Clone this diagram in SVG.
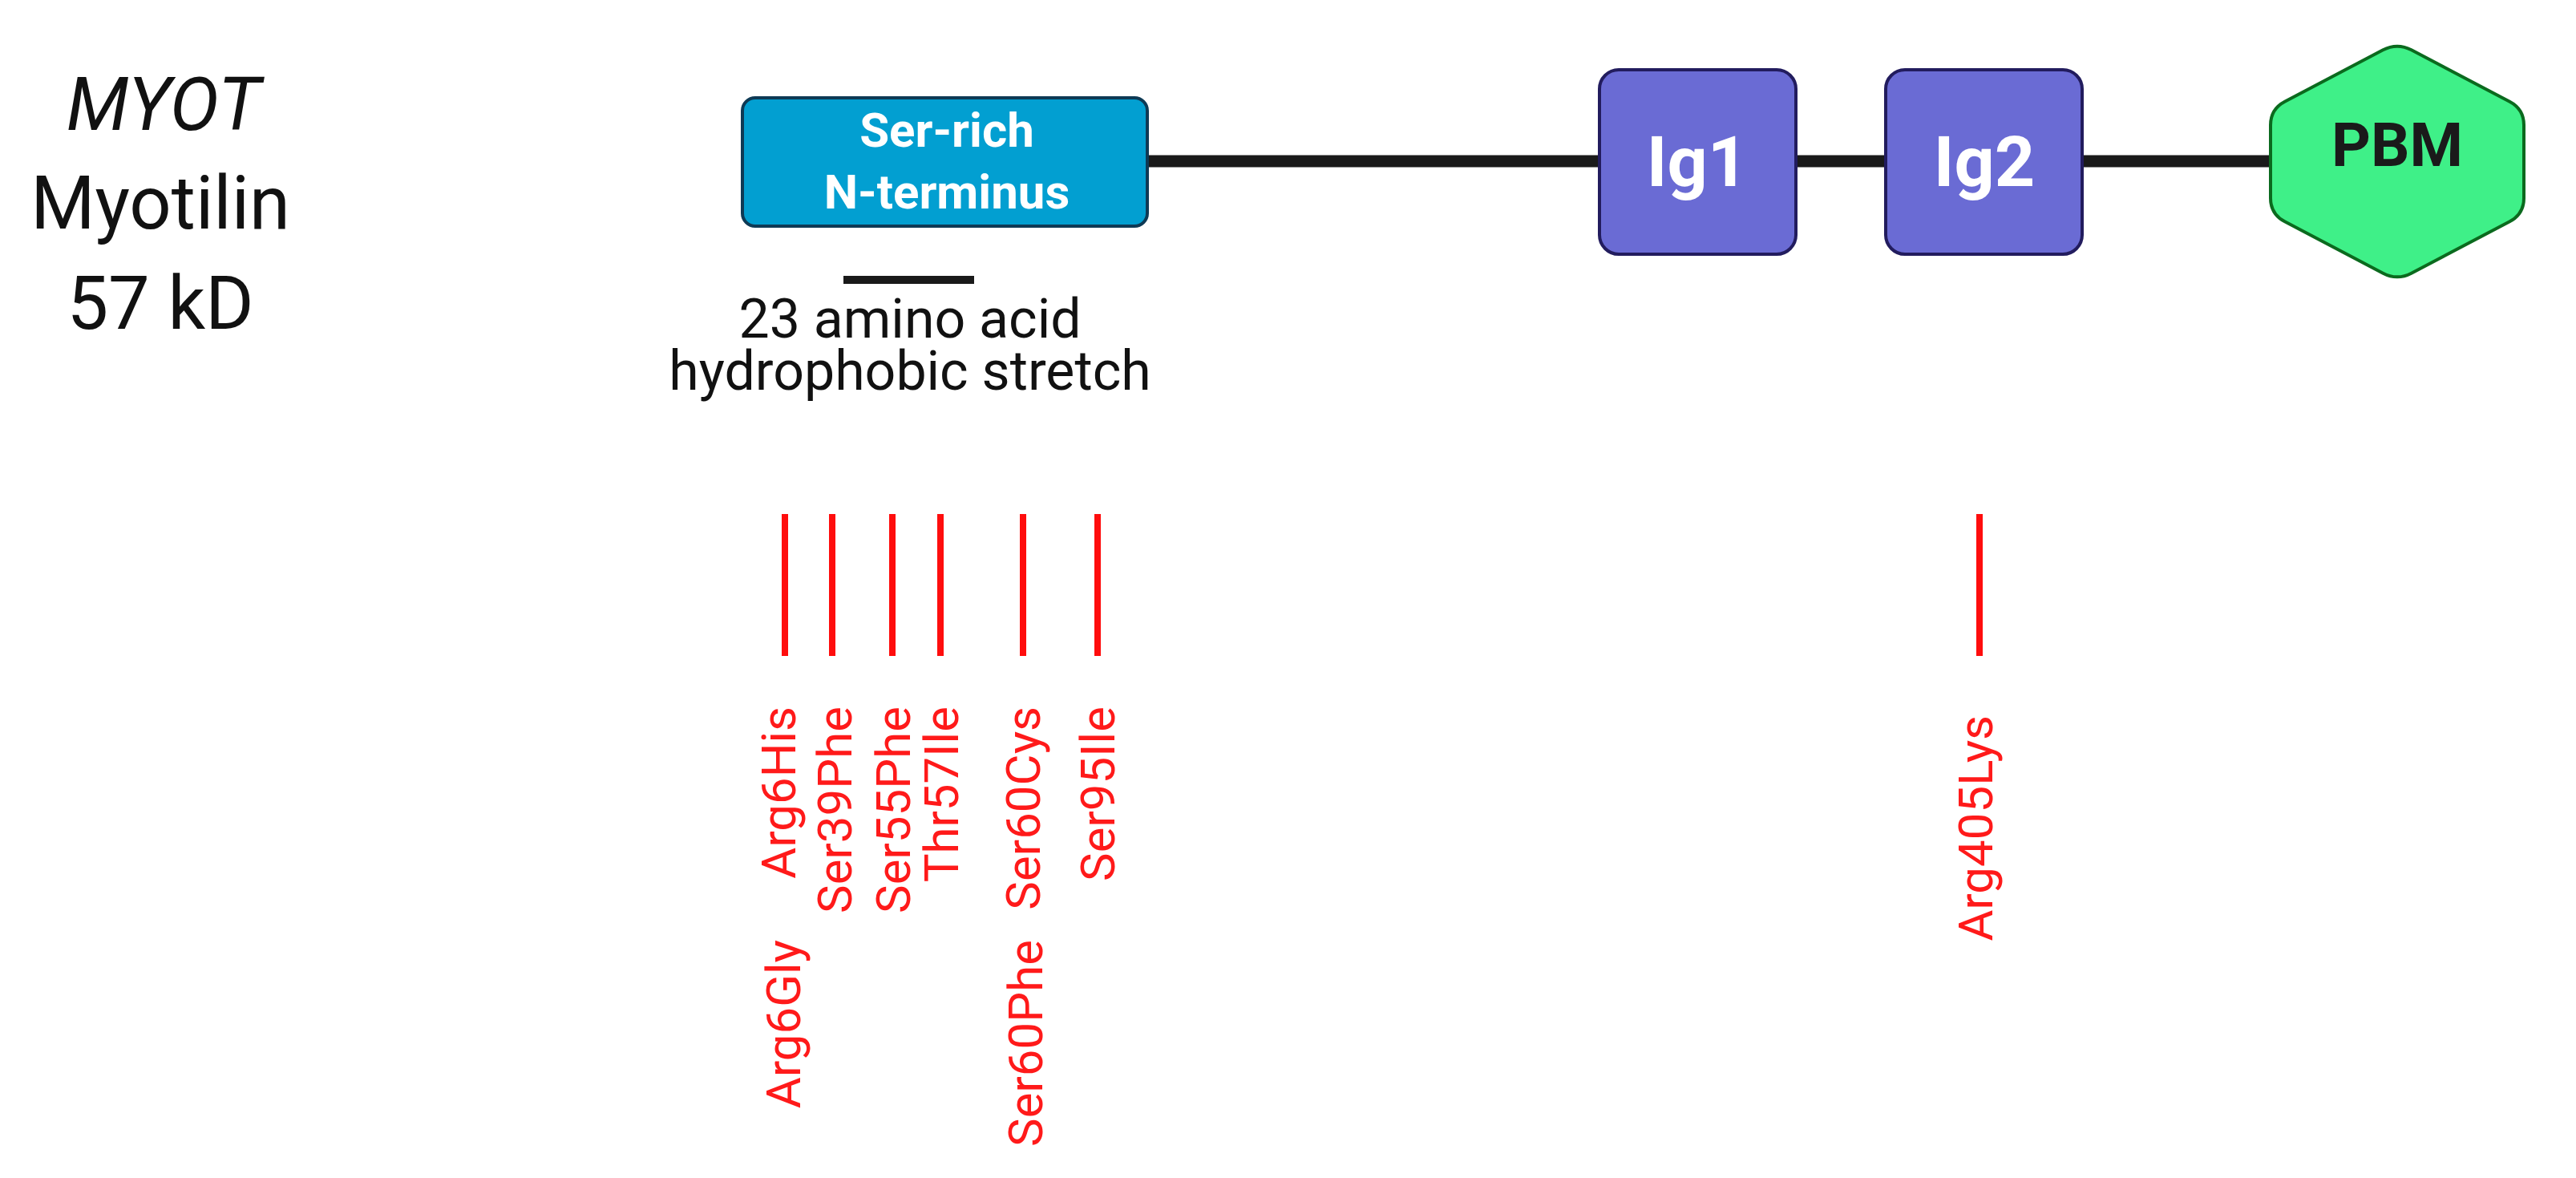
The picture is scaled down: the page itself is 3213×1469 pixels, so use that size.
<svg xmlns="http://www.w3.org/2000/svg" width="3213" height="1469" viewBox="0 0 3213 1469">
<style>
.lbl{font-family:Roboto,"Liberation Sans",sans-serif;fill:#111;}
.big{font-size:92px;text-anchor:middle;}
.mid{font-size:68px;text-anchor:middle;}
.dom{font-family:Roboto,"Liberation Sans",sans-serif;font-weight:bold;text-anchor:middle;}
.mut{font-family:Roboto,"Liberation Sans",sans-serif;font-size:60px;fill:#ff1a1a;text-anchor:end;}
.tick{stroke:#ff0d0d;stroke-width:8;}
</style>
<rect width="3213" height="1469" fill="#ffffff"/>
<g id="title">
<text class="lbl big" x="204" y="162" font-style="italic">MYOT</text>
<text class="lbl big" x="200" y="285">Myotilin</text>
<text class="lbl big" x="200" y="410">57 kD</text>
</g>
<g id="connectors">
<line x1="1431" y1="201" x2="2834" y2="201" stroke="#1a1a1a" stroke-width="15"/>
</g>
<g id="ser-rich">
<rect x="926" y="122" width="505" height="160" rx="16" fill="#029fd1" stroke="#0e3a55" stroke-width="4"/>
<text class="dom" x="1181" y="183" font-size="60" fill="#ffffff">Ser-rich</text>
<text class="dom" x="1181" y="260" font-size="60" fill="#ffffff">N-terminus</text>
</g>
<g id="hydrophobic">
<line x1="1052" y1="349" x2="1215" y2="349" stroke="#1a1a1a" stroke-width="10"/>
<text class="lbl mid" x="1135" y="421">23 amino acid</text>
<text class="lbl mid" x="1135" y="486">hydrophobic stretch</text>
</g>
<g id="ig1">
<rect x="1995" y="87" width="245" height="230" rx="24" fill="#6a6bd4" stroke="#221c5e" stroke-width="4"/>
<text class="dom" x="2117" y="232" font-size="88" fill="#ffffff">Ig1</text>
</g>
<g id="ig2">
<rect x="2352" y="87" width="245" height="230" rx="24" fill="#6a6bd4" stroke="#221c5e" stroke-width="4"/>
<text class="dom" x="2475" y="232" font-size="88" fill="#ffffff">Ig2</text>
</g>
<g id="pbm">
<path d="M2972.3,62.3 Q2990,53 3007.7,62.3 L3130.3,126.7 Q3148,136 3148,156 L3148,247 Q3148,267 3130.3,276.3 L3007.7,340.7 Q2990,350 2972.3,340.7 L2849.7,276.3 Q2832,267 2832,247 L2832,156 Q2832,136 2849.7,126.7 Z" fill="#3ff088" stroke="#0b6a1e" stroke-width="4"/>
<text class="dom" x="2990" y="207" font-size="76" fill="#1a1a1a">PBM</text>
</g>
<g id="mutations">
<line class="tick" x1="979" y1="641" x2="979" y2="818"/>
<line class="tick" x1="1038" y1="641" x2="1038" y2="818"/>
<line class="tick" x1="1113" y1="641" x2="1113" y2="818"/>
<line class="tick" x1="1173" y1="641" x2="1173" y2="818"/>
<line class="tick" x1="1276" y1="641" x2="1276" y2="818"/>
<line class="tick" x1="1369" y1="641" x2="1369" y2="818"/>
<line class="tick" x1="2469" y1="641" x2="2469" y2="818"/>
<text class="mut" transform="translate(992,881) rotate(-90)">Arg6His</text>
<text class="mut" transform="translate(1062,881) rotate(-90)">Ser39Phe</text>
<text class="mut" transform="translate(1135,881) rotate(-90)">Ser55Phe</text>
<text class="mut" transform="translate(1195,881) rotate(-90)">Thr57Ile</text>
<text class="mut" transform="translate(1297,881) rotate(-90)">Ser60Cys</text>
<text class="mut" transform="translate(1390,881) rotate(-90)">Ser95Ile</text>
<text class="mut" transform="translate(998,1172) rotate(-90)">Arg6Gly</text>
<text class="mut" transform="translate(1300,1172) rotate(-90)">Ser60Phe</text>
<text class="mut" transform="translate(2485,892) rotate(-90)">Arg405Lys</text>
</g>
</svg>
